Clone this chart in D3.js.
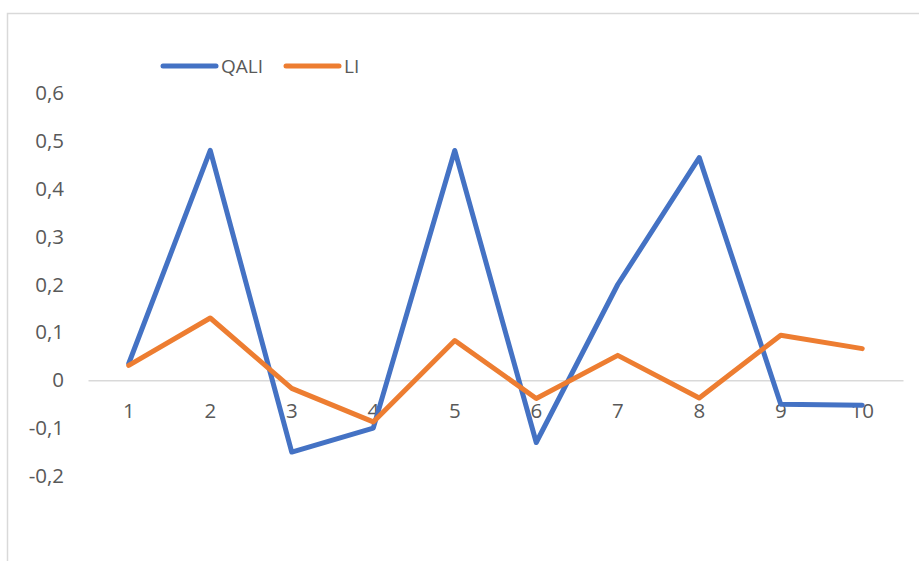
<!DOCTYPE html>
<html><head><meta charset="utf-8">
<script src="https://cdn.jsdelivr.net/npm/d3@7"></script>
<style>body{margin:0;background:#fff}svg{display:block}</style>
</head><body>
<script>
const categories = ["1","2","3","4","5","6","7","8","9","10"];
const qali = [0.035, 0.48, -0.15, -0.10, 0.48, -0.13, 0.20, 0.465, -0.05, -0.052];
const li = [0.031, 0.13, -0.017, -0.087, 0.083, -0.038, 0.052, -0.037, 0.094, 0.066];
const yTicks = [-0.2, -0.1, 0, 0.1, 0.2, 0.3, 0.4, 0.5, 0.6];
const seriesNames = ["QALI", "LI"];
const colors = ["#4472C4", "#ED7D31"];

const W = 919, H = 561;
const svg = d3.select("body").append("svg").attr("width", W).attr("height", H);
const font = "'Open Sans', sans-serif";
const fs = 20.5;

// chart border
svg.append("rect").attr("x", 7.5).attr("y", 13.5).attr("width", W + 10).attr("height", H + 10)
  .attr("fill", "none").attr("stroke", "#d9d9d9").attr("stroke-width", 1.5);

const x = d3.scaleBand().domain(categories).range([88, 903]);
const y = d3.scaleLinear().domain([-0.2, 0.6]).range([476, 93]);

// y labels
const yAxis = d3.axisLeft(y).tickValues(yTicks).tickSize(0).tickPadding(0)
  .tickFormat(d => d === 0 ? "0" : d3.format(".1f")(d).replace(".", ",").replace("−", "-"));
const gy = svg.append("g").attr("transform", "translate(64,0)").call(yAxis);
gy.select(".domain").remove();
gy.selectAll("text").attr("font-family", font).attr("font-size", fs).attr("fill", "#595959");

// zero axis line
const xAxis = d3.axisBottom(x).tickSize(0).tickPadding(23);
const gx = svg.append("g").attr("transform", `translate(0,${y(0)})`).call(xAxis);
gx.select(".domain").attr("stroke", "#d9d9d9").attr("stroke-width", 1.5);
gx.selectAll("text").attr("font-family", font).attr("font-size", fs).attr("fill", "#595959");

const line = d3.line().x((d, i) => x(categories[i]) + x.bandwidth() / 2).y(d => y(d));
[qali, li].forEach((s, k) => {
  svg.append("path").datum(s).attr("d", line).attr("fill", "none")
    .attr("stroke", colors[k]).attr("stroke-width", 5)
    .attr("stroke-linejoin", "round").attr("stroke-linecap", "round");
});

// legend
const legX = [163, 286];
seriesNames.forEach((n, k) => {
  const g = svg.append("g").attr("transform", `translate(${legX[k]},66)`);
  g.append("line").attr("x1", 0).attr("x2", 53).attr("y1", 0).attr("y2", 0)
    .attr("stroke", colors[k]).attr("stroke-width", 5).attr("stroke-linecap", "round");
  g.append("text").attr("x", 58).attr("y", 0).attr("dy", "0.35em")
    .attr("font-family", font).attr("font-size", 19).attr("fill", "#595959").text(n);
});
</script>
</body></html>
